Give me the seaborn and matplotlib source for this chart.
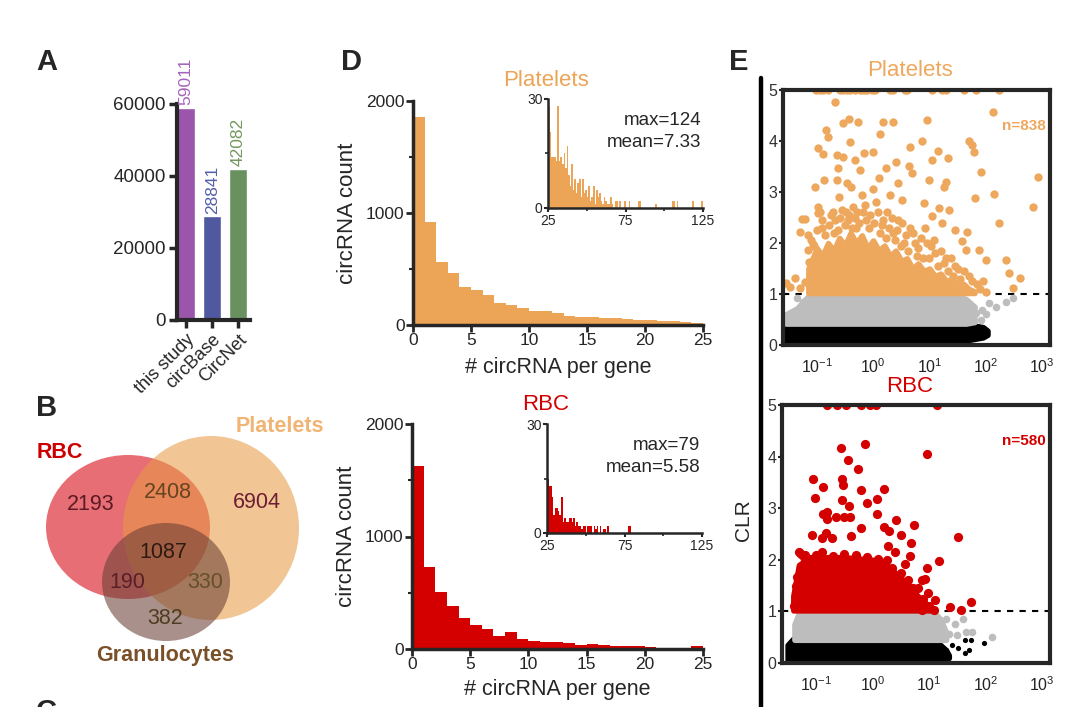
import numpy as np
import pandas as pd
import matplotlib
matplotlib.use("Agg")
import matplotlib.pyplot as plt
from matplotlib.patches import Ellipse
from matplotlib.lines import Line2D
from matplotlib.ticker import NullLocator
import seaborn as sns

# ---- panel A: database sizes
db_names = ["this study", "circBase", "CircNet"]
db_counts = [59011, 28841, 42082]
db_colors = ["#9b55aa", "#5058a0", "#69915f"]
db_text_colors = ["#a463b8", "#5560aa", "#75975f"]

# ---- panel B: venn counts
venn_counts = {"RBC": 2193, "RBC&Platelets": 2408, "Platelets": 6904,
               "all": 1087, "RBC&Gran": 190, "Platelets&Gran": 330, "Granulocytes": 382}

# ---- panel D: circRNA per gene histograms (bins 0..24, width 1)
plt_counts = [1854, 922, 565, 461, 342, 312, 268, 193, 179, 149, 128, 128, 104,
              80, 74, 68, 60, 60, 51, 45, 45, 39, 36, 24, 15]
rbc_counts = [1624, 729, 504, 385, 273, 216, 178, 119, 148, 89, 74, 65, 65,
              53, 36, 44, 33, 30, 24, 30, 15, 9, 9, 9, 24]
# insets (bins 25..124, only non-empty ones)
plt_inset_x = [25, 26, 27, 28, 29, 30, 31, 32, 33, 34, 35, 36, 37, 38, 39, 40, 41, 42,
               43, 44, 45, 46, 47, 48, 49, 50, 51, 52, 53, 54, 55, 56, 57, 58, 59, 60,
               61, 62, 63, 64, 65, 66, 68, 69, 71, 74, 77, 83, 84, 94, 105, 106, 108, 118, 124]
plt_inset_n = [28, 21, 14, 14, 14, 13, 28, 13, 14, 12, 15, 11, 17, 9, 6, 12, 5, 8,
               4, 7, 8, 3, 8, 4, 5, 3, 6, 2, 3, 6, 1, 5, 3, 4, 2, 1,
               3, 2, 1, 1, 3, 1, 2, 2, 2, 2, 2, 2, 2, 1, 2, 2, 2, 2, 2]
rbc_inset_x = [25, 26, 27, 28, 29, 30, 31, 32, 33, 34, 35, 36, 37, 38, 39, 40, 41, 42,
               43, 44, 45, 46, 47, 48, 49, 51, 52, 53, 55, 56, 57, 59, 61, 62, 64, 77, 78]
rbc_inset_n = [15, 13, 13, 10, 5, 7, 7, 6, 5, 10, 3, 4, 3, 3, 4, 4, 3, 4,
               2, 3, 2, 2, 1, 2, 2, 2, 2, 2, 2, 1, 2, 2, 1, 1, 2, 2, 2]
hist_stats = {"Platelets": "max=124\nmean=7.33", "RBC": "max=79\nmean=5.58"}

# ---- panel E: CLR scatter (log10 x, CLR y)
plt_hi_lx = [-1.01, -0.95, -0.89, -0.81, -0.59, -0.53, -0.47, -0.41, -0.32, -0.23, -0.19,
             -0.14, -0.10, -0.02, 0.04, 0.30, 0.36, 0.56, 0.60, 1.05, 1.23, 1.29, 1.61, 1.82, 2.24,
             -0.68, 2.12, -0.43, -0.53, -0.27, 0.17, 0.35, 0.96, -0.83, -0.80, 0.125, -0.41, 0.87,
             1.70, -0.98, -0.89, 1.76, 1.79, 0.65, 1.15, -0.65, -0.53, -0.32, -0.17, 0.006, 0.40,
             1.05, 1.33, -1.04, -0.87, -0.62, -0.23, 0.23, 0.63, 0.69, 1.91, 2.92, 2.83, 2.15,
             1.80, 2.24, 1.29, 1.26, 1.00, 0.90, 1.17, 1.35, 1.05, 1.23, 1.46, 1.67, -1.27, -1.21,
             -1.29, -0.98, -0.98, -1.15, -0.65, -0.47, 0.10, 0.45, 0.51, 1.58, 1.64, 1.88, 2.00,
             2.36, 2.42, 2.60, 2.48, -1.54, -1.48, -1.39, -1.30, -1.21, -1.13, -1.15, -1.07, 2.00,
             -0.90, -0.75, -0.70, -0.55, -0.45, -0.35, -0.30, -0.15, -0.05, 0.05, 0.15, 0.25, 0.35,
             0.45, 0.55, 0.70, 0.80, 0.95, 1.10, 1.30, 1.45, 1.70, 1.85, -1.05, -0.60, -0.20, 0.00,
             -0.40, 0.30,
             -1.10, -1.00, -0.95, -0.90, -0.85, -0.78, -0.72, -0.68, -0.62, -0.58, -0.50, -0.48,
             -0.42, -0.38, -0.33, -0.28, -0.25, -0.18, -0.12, -0.08, 0.02, 0.08, 0.12, 0.18, 0.22,
             0.28, 0.33, 0.38, 0.42, 0.50, 0.52, 0.58, 0.62, 0.66, 0.75, 0.78, 0.85, 0.88, 0.92,
             1.00, 1.02, 1.08, 1.15, 1.20, 1.25, 1.33, 1.38, 1.42, 1.50, 1.55, 1.62, 1.75, 1.90, 1.95]
plt_hi_y = [5, 5, 5, 5, 5, 5, 5, 5, 5, 5, 5, 5, 5, 5, 5, 5, 5, 5, 5, 5, 5, 5, 5, 5, 5,
            4.77, 4.56, 4.44, 4.35, 4.38, 4.37, 4.38, 4.42, 4.22, 4.08, 4.14, 3.99, 4.00,
            4.00, 3.86, 3.75, 3.92, 3.79, 3.88, 3.81, 3.73, 3.69, 3.63, 3.77, 3.79, 3.59,
            3.63, 3.66, 3.10, 3.24, 3.48, 3.44, 3.48, 3.51, 3.38, 3.40, 3.30, 2.71, 2.97,
            2.88, 2.39, 3.20, 3.10, 3.24, 2.78, 2.68, 2.65, 2.52, 2.39, 2.25, 2.22, 2.48, 2.48,
            2.22, 2.71, 2.58, 2.16, 3.24, 3.17, 3.27, 3.17, 2.84, 2.03, 1.86, 1.86, 1.67,
            1.67, 1.41, 1.31, 1.11, 1.21, 1.14, 1.31, 1.11, 1.24, 1.63, 1.86, 1.99, 1.03,
            2.30, 2.55, 2.20, 2.65, 2.45, 2.70, 2.30, 2.75, 2.55, 2.80, 2.35, 2.60, 2.20,
            2.45, 2.00, 2.20, 1.90, 2.00, 1.80, 1.70, 1.55, 1.35, 1.20, 1.95, 2.90, 2.95, 3.05,
            3.10, 2.95,
            2.05, 2.25, 2.60, 2.45, 2.15, 2.35, 2.60, 2.45, 2.25, 2.50, 2.35, 2.60,
            2.55, 2.30, 2.50, 2.60, 2.40, 2.60, 2.45, 2.30, 2.40, 2.60, 2.20, 2.45, 2.10,
            2.30, 2.50, 2.05, 2.25, 1.95, 2.40, 2.15, 1.85, 2.30, 2.00, 1.75, 2.10, 1.70, 2.30,
            1.70, 1.95, 2.05, 1.55, 1.85, 1.60, 1.45, 1.70, 1.35, 1.50, 1.30, 1.45, 1.25, 1.10, 1.25]
plt_grey_lx = [-1.36, -1.51, -1.33, -1.45, 1.82, 1.94, 2.06, 2.18, 2.36, 2.48, 1.70, 1.91, 1.60, 2.00, -1.25]
plt_grey_y = [0.92, 0.52, 0.62, 0.60, 0.62, 0.69, 0.82, 0.75, 0.85, 0.92, 0.80, 0.49, 0.50, 0.60, 0.85]

rbc_hi_lx = [-0.80, -0.62, -0.47, -0.20, -0.05, 0.07, 1.14,
             -0.56, -0.13, 0.96, -0.43, -0.25, -1.05, -0.53, -0.52, -0.87, -0.20, 0.20, -1.01,
             -0.53, 0.08, -0.10, -0.41, 0.08, -0.88, -0.81, -0.80, -0.65, -0.51, -0.39, 0.41,
             0.20, 0.74, -0.20, -1.07, -0.83, -0.38, -0.89, -0.71, 0.30, 0.51, 0.69, 1.52,
             1.17, 0.96, 0.93, 0.87, 0.99, 1.11, 1.38, 1.57, 1.75, 0.67, 0.57, 0.39, 0.27,
             -1.33, -1.32, -1.27, -1.21, 0.81, 0.69, 0.66, 0.45, 0.87, 1.08,
             -1.30, -1.20, -1.00, -0.90, -0.70, -0.50, -0.30, -0.10, 0.10, 0.25, 0.35, 0.50,
             0.62, 0.72, 0.90, 1.00, -1.38, -1.36, -1.34]
rbc_hi_y = [5, 5, 5, 5, 5, 5, 5,
            4.17, 4.25, 4.06, 3.94, 3.76, 3.57, 3.56, 3.44, 3.42, 3.35, 3.38, 3.20,
            3.16, 3.17, 3.11, 3.04, 2.88, 2.88, 2.93, 2.80, 2.83, 2.83, 2.83, 2.77,
            2.64, 2.67, 2.61, 2.48, 2.52, 2.46, 2.42, 2.43, 2.56, 2.49, 2.33, 2.45,
            1.98, 1.85, 1.62, 1.60, 1.35, 1.22, 1.08, 1.02, 1.19, 2.07, 1.91, 2.16, 2.27,
            1.67, 1.22, 2.12, 2.06, 1.45, 1.45, 1.28, 1.41, 1.02, 1.02,
            2.15, 2.10, 2.10, 2.15, 2.08, 2.12, 2.10, 2.05, 2.02, 2.00, 1.85, 1.75,
            1.60, 1.45, 1.25, 1.10, 1.10, 1.50, 1.35]
rbc_grey_lx = [1.23, 1.35, 1.46, 1.61, 1.76, 1.65, 2.12, 1.30, 1.50]
rbc_grey_y = [0.70, 0.57, 0.76, 0.86, 0.60, 0.60, 0.50, 0.85, 0.55]
rbc_black_lx = [1.52, 1.63, 1.70, 1.64, 1.75, 1.97, 1.30, 1.40]
rbc_black_y = [0.29, 0.19, 0.26, 0.44, 0.44, 0.39, 0.25, 0.35]

# dense clouds drawn as envelopes: (log10 x, lower, upper)
plt_core_lx = [-1.15, -1.0, -0.9, -0.8, -0.7, -0.6, -0.5, -0.4, -0.3, -0.2, -0.1, 0.0, 0.1,
               0.2, 0.3, 0.4, 0.5, 0.6, 0.7, 0.8, 0.9, 1.0, 1.1, 1.2, 1.3, 1.4, 1.5, 1.6, 1.7, 1.8]
plt_core_up = [1.50, 1.90, 1.75, 2.00, 1.85, 2.10, 1.95, 2.20, 2.00, 2.15, 1.90, 2.05, 1.85,
               1.95, 1.75, 1.85, 1.65, 1.70, 1.50, 1.60, 1.45, 1.50, 1.35, 1.40, 1.25, 1.30,
               1.15, 1.20, 1.10, 1.05]
plt_grey_env_lx = [-1.55, -1.35, -1.15, 1.50, 1.65, 1.80]
plt_grey_env_lo = [0.42, 0.42, 0.42, 0.42, 0.42, 0.45]
plt_grey_env_up = [0.60, 0.72, 0.96, 0.96, 0.90, 0.75]
plt_black_env_lx = [-1.65, -1.3, -0.8, -0.3, 0.2, 0.7, 1.1, 1.5, 1.7, 1.95, 2.03]
plt_black_env_lo = [0, 0, 0, 0, 0, 0, 0, 0, 0.10, 0.15, 0.20]
plt_black_env_up = [0.40, 0.43, 0.45, 0.44, 0.44, 0.45, 0.44, 0.42, 0.40, 0.35, 0.28]

rbc_core_lx = [-1.40, -1.30, -1.10, -0.50, 0.0, 0.2, 0.4, 0.6, 0.8, 1.0, 1.1]
rbc_core_up = [1.30, 1.90, 2.05, 2.05, 2.00, 1.95, 1.75, 1.55, 1.30, 1.10, 1.00]
rbc_grey_env_lx = [-1.38, -1.30, 1.10, 1.20, 1.30]
rbc_grey_env_lo = [0.45, 0.45, 0.45, 0.45, 0.45]
rbc_grey_env_up = [0.75, 0.97, 0.97, 0.85, 0.60]
rbc_black_env_lx = [-1.50, -1.40, 0.5, 1.0, 1.2, 1.3, 1.35]
rbc_black_env_lo = [0, 0, 0, 0, 0, 0.05, 0.10]
rbc_black_env_up = [0.35, 0.47, 0.45, 0.43, 0.35, 0.25, 0.15]
n_sig = {"Platelets": 838, "RBC": 580}

ORANGE = "#eca457"
RED = "#d40000"
GREY = "#bdbdbd"

sns.set_theme(style="ticks")
plt.rcParams['font.family'] = ['Liberation Sans', 'DejaVu Sans']
plt.rcParams['mathtext.fontset'] = 'custom'
plt.rcParams['mathtext.rm'] = 'Liberation Sans'
plt.rcParams['mathtext.it'] = 'Liberation Sans'

W, H = 1080, 707
fig = plt.figure(figsize=(W / 100, H / 100), dpi=100)


def box(l, t, r, b):
    return fig.add_axes([l / W, 1 - b / H, (r - l) / W, (b - t) / H])


# overlay for free text and venn
ov = fig.add_axes([0, 0, 1, 1])
ov.set_xlim(0, W)
ov.set_ylim(H, 0)
ov.axis("off")

for lab, (x, y) in zip("ABCDE", [(36, 62), (36, 408), (36, 712), (341, 62), (729, 62)]):
    ov.text(x, y, lab, fontsize=21, fontweight="bold", va="center", ha="left")

# ---- A
ax = box(177, 104, 250, 320)
df_a = pd.DataFrame({"src": db_names, "n": db_counts})
sns.barplot(data=df_a, x="src", y="n", hue="src", palette=db_colors, saturation=1,
            width=0.7, legend=False, ax=ax)
ax.set_xlim(-0.35, 2.45)
ax.set_ylim(0, 60000)
ax.set_yticks([0, 20000, 40000, 60000])
ax.set_xlabel("")
ax.set_ylabel("")
sns.despine(ax=ax)
for s in ["left", "bottom"]:
    ax.spines[s].set_linewidth(3)
ax.tick_params(length=6, width=2.5, labelsize=13.5, pad=2)
ax.set_xticks(range(3))
ax.set_xticklabels(db_names, rotation=45, ha="right", rotation_mode="anchor", fontsize=13)
for i, v in enumerate(db_counts):
    ax.text(i, v + 600, str(v), rotation=90, ha="center", va="bottom",
            color=db_text_colors[i], fontsize=12.5, clip_on=False)

# ---- B venn
ov.add_patch(Ellipse((128, 527), 164, 144, color=(222 / 255, 48 / 255, 59 / 255), alpha=0.7, lw=0))
ov.add_patch(Ellipse((211, 528), 176, 184, color=(232 / 255, 153 / 255, 67 / 255), alpha=0.57, lw=0))
ov.add_patch(Ellipse((166, 582), 128, 118, color=(107 / 255, 65 / 255, 53 / 255), alpha=0.58, lw=0))
venn_pos = {"RBC": (91, 505), "RBC&Platelets": (168, 493), "Platelets": (257, 503),
            "all": (163, 552), "RBC&Gran": (127, 582), "Platelets&Gran": (205, 582),
            "Granulocytes": (165, 618)}
venn_col = {"RBC": "#5c1a24", "RBC&Platelets": "#654420", "Platelets": "#6e1e34",
            "all": "#2e1a10", "RBC&Gran": "#5a1e26", "Platelets&Gran": "#66502a",
            "Granulocytes": "#503c20"}
for k, v in venn_counts.items():
    ov.text(*venn_pos[k], str(v), ha="center", va="center", fontsize=15.5, color=venn_col[k])
ov.text(60, 452, "RBC", ha="center", va="center", fontsize=15.5, fontweight="bold", color="#cc0000")
ov.text(280, 427, "Platelets", ha="center", va="center", fontsize=15.5, fontweight="bold", color="#f0b474")
ov.text(165, 655, "Granulocytes", ha="center", va="center", fontsize=15.5, fontweight="bold", color="#7a5028")


# ---- D histograms
def hist_panel(main_box, inset_box, counts, ix, inn, color, title, stats, title_y, xlab_y):
    axm = box(*main_box)
    sns.histplot(x=np.arange(len(counts)) + 0.5, weights=counts, binwidth=1, binrange=(0, 25),
                 color=color, alpha=1, linewidth=0, ax=axm)
    axm.set_xlim(0, 25)
    axm.set_ylim(0, 2000)
    axm.set_xticks([0, 5, 10, 15, 20, 25])
    axm.set_yticks([0, 1000, 2000])
    axm.set_yticks([500, 1500], minor=True)
    sns.despine(ax=axm)
    for s in ["left", "bottom"]:
        axm.spines[s].set_linewidth(2.5)
    axm.tick_params(which="major", length=5, width=2, labelsize=12.5, pad=1)
    axm.tick_params(which="minor", length=3, width=1.5)
    axm.set_ylabel("circRNA count", fontsize=16, labelpad=6)
    axm.set_xlabel("")
    l, t, r, b = main_box
    ov.text((l + r) / 2, xlab_y, "# circRNA per gene", ha="center", va="center", fontsize=15.5)
    ov.text(546, title_y, title, ha="center", va="center", fontsize=16, color=color)

    axi = box(*inset_box)
    sns.histplot(x=np.array(ix) + 0.5, weights=inn, binwidth=1, binrange=(25, 125),
                 color=color, alpha=1, linewidth=0, ax=axi)
    axi.set_xlim(25, 125)
    axi.set_ylim(0, 30)
    axi.set_xticks([25, 75, 125])
    axi.set_xticks([50, 100], minor=True)
    axi.set_yticks([0, 30])
    axi.set_yticks([15], minor=True)
    sns.despine(ax=axi)
    for s in ["left", "bottom"]:
        axi.spines[s].set_linewidth(1.8)
    axi.tick_params(which="major", length=3, width=1.5, labelsize=10, pad=1)
    axi.tick_params(which="minor", length=2, width=1.2)
    axi.set_xlabel("")
    axi.set_ylabel("")
    axi.patch.set_alpha(0)
    axi.text(0.99, 0.88, stats, transform=axi.transAxes, ha="right", va="top",
             fontsize=13.5, linespacing=1.35)


hist_panel((413, 101, 703, 325), (548, 99, 703, 208), plt_counts, plt_inset_x, plt_inset_n,
           ORANGE, "Platelets", hist_stats["Platelets"], 80, 368)
hist_panel((412, 424, 703, 649), (547, 424, 702, 533), rbc_counts, rbc_inset_x, rbc_inset_n,
           RED, "RBC", hist_stats["RBC"], 405, 689)


# ---- E scatter
def scatter_panel(bx, core, grey_env, black_env, hi, grey_pts, black_pts, color, title, n, title_y, s_hi):
    axs = box(*bx)
    axs.set_xscale("log")
    axs.axhline(1, color="black", lw=1.5, ls=(0, (3, 3)), zorder=1)
    lx, lo, up = black_env
    axs.fill_between(10 ** np.array(lx), lo, up, facecolor="black", edgecolor="black",
                     lw=4, joinstyle="round", zorder=2)
    lx, lo, up = grey_env
    axs.fill_between(10 ** np.array(lx), lo, up, facecolor=GREY, edgecolor=GREY,
                     lw=4, joinstyle="round", zorder=3)
    lx, up = core
    axs.fill_between(10 ** np.array(lx), 1.02, up, facecolor=color, edgecolor=color,
                     lw=4, joinstyle="round", zorder=3)
    sns.scatterplot(x=10 ** np.array(grey_pts[0]), y=grey_pts[1], color=GREY, s=30,
                    linewidth=0, ax=axs, zorder=3)
    if black_pts is not None:
        sns.scatterplot(x=10 ** np.array(black_pts[0]), y=black_pts[1], color="black", s=14,
                        linewidth=0, ax=axs, zorder=3)
    sns.scatterplot(x=10 ** np.array(hi[0]), y=hi[1], color=color, s=s_hi,
                    linewidth=0, ax=axs, zorder=4)
    axs.set_xlim(10 ** -1.6, 10 ** 3.14)
    axs.set_ylim(0, 5)
    axs.set_xticks([0.1, 1, 10, 100, 1000])
    axs.set_xticklabels([r"$10^{-1}$", r"$10^{0}$", r"$10^{1}$", r"$10^{2}$", r"$10^{3}$"])
    axs.xaxis.set_minor_locator(NullLocator())
    axs.set_yticks([0, 1, 2, 3, 4, 5])
    for s in axs.spines.values():
        s.set_linewidth(3)
        s.set_zorder(6)
    axs.tick_params(axis="x", length=0, labelsize=11.5, pad=9, labelcolor="#222222")
    axs.tick_params(axis="y", length=3, width=1.5, labelsize=11.5, pad=1, labelcolor="#333333")
    axs.set_xlabel("")
    axs.set_ylabel("")
    ov.text(910, title_y, title, ha="center", va="center", fontsize=16, color=color)
    axs.text(0.985, 0.86, f"n={n}", transform=axs.transAxes, ha="right", va="center",
             fontsize=11, fontweight="bold", color=color)


scatter_panel((783, 90, 1050, 345), (plt_core_lx, plt_core_up),
              (plt_grey_env_lx, plt_grey_env_lo, plt_grey_env_up),
              (plt_black_env_lx, plt_black_env_lo, plt_black_env_up),
              (plt_hi_lx, plt_hi_y), (plt_grey_lx, plt_grey_y), None,
              "#eea85e", "Platelets", n_sig["Platelets"], 71, 36)
scatter_panel((782, 405, 1050, 663), (rbc_core_lx, rbc_core_up),
              (rbc_grey_env_lx, rbc_grey_env_lo, rbc_grey_env_up),
              (rbc_black_env_lx, rbc_black_env_lo, rbc_black_env_up),
              (rbc_hi_lx, rbc_hi_y), (rbc_grey_lx, rbc_grey_y), (rbc_black_lx, rbc_black_y),
              RED, "RBC", n_sig["RBC"], 386, 44)

fig.add_artist(Line2D([761 / W, 761 / W], [0, 1 - 78 / H], color="black", lw=3.2))
ov.text(744, 520, "CLR", rotation=90, ha="center", va="center", fontsize=15)

fig.savefig("out.png", dpi=100)
